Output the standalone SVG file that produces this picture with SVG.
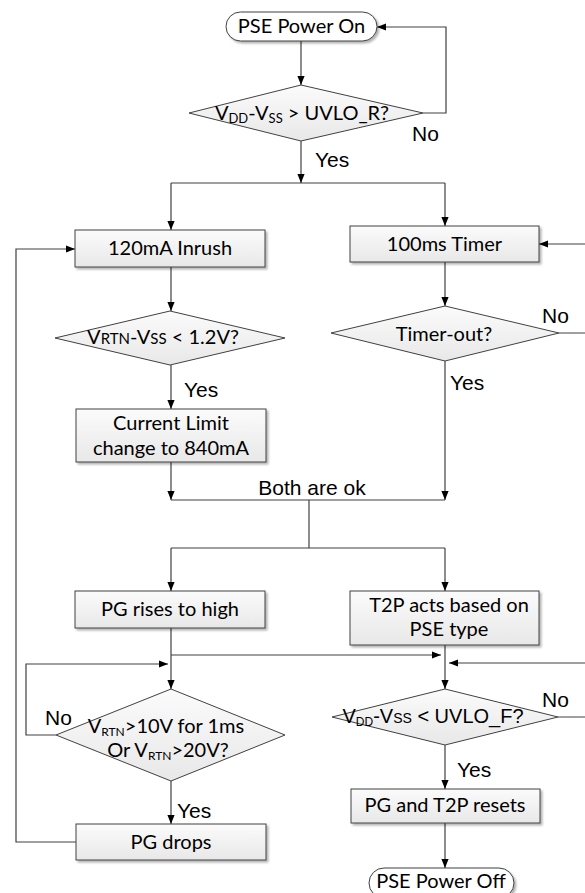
<svg xmlns="http://www.w3.org/2000/svg" width="585" height="893" viewBox="0 0 585 893">
<defs>
<linearGradient id="g" x1="0" y1="0" x2="0" y2="1"><stop offset="0" stop-color="#fbfbfb"/><stop offset="1" stop-color="#e8e8e8"/></linearGradient>
<marker id="ah" viewBox="0 0 10 10" refX="10" refY="5" markerWidth="9" markerHeight="9" markerUnits="userSpaceOnUse" orient="auto"><path d="M0,1 L10,5 L0,9 z" fill="#000"/></marker>
<filter id="sh" x="-10%" y="-10%" width="130%" height="150%"><feDropShadow dx="2" dy="2" stdDeviation="0.8" flood-color="#000" flood-opacity="0.3"/></filter>
<style>
.box{fill:url(#g);stroke:#404040;stroke-width:1;filter:url(#sh)}
.term{fill:#fff;stroke:#404040;stroke-width:1;filter:url(#sh)}
.dia{fill:url(#g);stroke:#404040;stroke-width:1}
.t{font-family:Lato,"Liberation Sans",sans-serif;font-size:20px;fill:#000;text-anchor:middle}
.ta{font-family:"Liberation Sans",Arial,sans-serif;font-size:20px;fill:#000;text-anchor:middle}
.lab{font-family:"Liberation Sans",Arial,sans-serif;font-size:21px;fill:#000}
.c{fill:none;stroke:#404040;stroke-width:1.2}
.a{marker-end:url(#ah)}
</style>
</defs>
<g id="connectors">
<path class="c a" d="M301,41 V85"/>
<path class="c a" d="M423,113 H446 V27 H377"/>
<path class="c a" d="M301,141 V183"/>
<path class="c" d="M171,183 H445"/>
<path class="c a" d="M171,183 V230"/>
<path class="c a" d="M445,183 V226"/>
<path class="c a" d="M559,333 H592 V244 H539"/>
<path class="c a" d="M445,262 V306"/>
<path class="c a" d="M171,267 V311"/>
<path class="c a" d="M76,842 H16 V249 H75"/>
<path class="c a" d="M171,365 V409"/>
<path class="c a" d="M171,462 V500"/>
<path class="c a" d="M445,361 V500"/>
<path class="c" d="M171,500 H445"/>
<path class="c" d="M309,500 V548"/>
<path class="c" d="M171,548 H445"/>
<path class="c a" d="M171,548 V591"/>
<path class="c a" d="M445,548 V591"/>
<path class="c a" d="M171,628 V689"/>
<path class="c a" d="M171,655 H441"/>
<path class="c a" d="M445,645 V689"/>
<path class="c a" d="M558,717 H592 V663 H449"/>
<path class="c a" d="M56,735 H26 V664 H168"/>
<path class="c a" d="M171,781 V824"/>
<path class="c a" d="M445,745 V789"/>
<path class="c a" d="M445,823 V868"/>
</g>
<g id="labels">
<text class="lab" x="412" y="141">No</text>
<text class="lab" x="315" y="167">Yes</text>
<text class="lab" x="184" y="397">Yes</text>
<text class="lab" x="450" y="390">Yes</text>
<text class="lab" x="542" y="323">No</text>
<text class="lab" x="312" y="495" text-anchor="middle">Both are ok</text>
<text class="lab" x="45" y="725">No</text>
<text class="lab" x="542" y="707">No</text>
<text class="lab" x="177" y="818">Yes</text>
<text class="lab" x="457" y="777">Yes</text>
</g>
<g id="pse_on">
<rect class="term" x="226" y="12" width="151" height="29" rx="14.5"/>
<text class="t" x="301.5" y="33">PSE Power On</text>
</g>
<g id="uvlo_r">
<polygon class="dia" points="301,85 423,113 301,141 189,113"/>
<text class="t" x="302" y="120">V<tspan font-size="13" dy="3">DD</tspan><tspan dy="-3">-V</tspan><tspan font-size="13" dy="3">SS</tspan><tspan dy="-3"> &gt; UVLO_R?</tspan></text>
</g>
<g id="inrush">
<rect class="box" x="75" y="230" width="190" height="37"/>
<text class="t" x="170" y="255">120mA Inrush</text>
</g>
<g id="timer">
<rect class="box" x="350" y="226" width="189" height="36"/>
<text class="t" x="444.5" y="251">100ms Timer</text>
</g>
<g id="vrtn_check">
<polygon class="dia" points="170,311 285,338 170,365 55,338"/>
<text class="t" x="163" y="344">V<tspan font-size="15">RTN</tspan>-V<tspan font-size="15">SS</tspan> &lt; 1.2V?</text>
</g>
<g id="timer_out">
<polygon class="dia" points="445,306 559,333 445,361 331,333"/>
<text class="t" x="444" y="341">Timer-out?</text>
</g>
<g id="current_limit">
<rect class="box" x="76" y="409" width="190" height="53"/>
<text class="t" x="171" y="430">Current Limit</text>
<text class="t" x="171" y="455">change to 840mA</text>
</g>
<g id="pg_high">
<rect class="box" x="75" y="591" width="190" height="37"/>
<text class="t" x="170" y="616">PG rises to high</text>
</g>
<g id="t2p_acts">
<rect class="box" x="350" y="591" width="189" height="54"/>
<text class="t" x="449" y="612">T2P acts based on</text>
<text class="t" x="449" y="636">PSE type</text>
</g>
<g id="vrtn_over">
<polygon class="dia" points="171,689 285,735 171,781 56,735"/>
<text class="t" x="166" y="733">V<tspan font-size="12" dy="3">RTN</tspan><tspan dy="-3">&gt;10V for 1ms</tspan></text>
<text class="t" x="168" y="757">Or V<tspan font-size="12" dy="3">RTN</tspan><tspan dy="-3">&gt;20V?</tspan></text>
</g>
<g id="uvlo_f">
<polygon class="dia" points="445,689 558,717 445,745 332,717"/>
<text class="ta" x="433" y="723">V<tspan font-size="12" dy="3">DD</tspan><tspan dy="-3">-V</tspan><tspan font-size="14">SS</tspan> &lt; UVLO_F?</text>
</g>
<g id="pg_drops">
<rect class="box" x="76" y="824" width="190" height="36"/>
<text class="t" x="171" y="849">PG drops</text>
</g>
<g id="resets">
<rect class="box" x="351" y="789" width="189" height="34"/>
<text class="t" x="445" y="812">PG and T2P resets</text>
</g>
<g id="pse_off">
<rect class="term" x="369" y="868" width="145" height="30" rx="15"/>
<text class="t" x="441" y="888">PSE Power Off</text>
</g>
</svg>
